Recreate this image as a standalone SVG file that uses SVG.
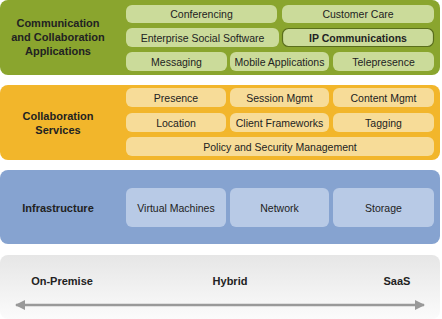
<svg xmlns="http://www.w3.org/2000/svg" width="442" height="319" viewBox="0 0 442 319">
<defs>
<linearGradient id="gg" x1="0" y1="0" x2="0" y2="1">
<stop offset="0" stop-color="#e6e6e6"/>
<stop offset="1" stop-color="#fbfbfb"/>
</linearGradient>
<marker id="ah" viewBox="0 0 10 10" refX="9" refY="5" markerWidth="6" markerHeight="4" orient="auto-start-reverse" markerUnits="strokeWidth">
<path d="M0,0 L10,5 L0,10 z" fill="#999"/>
</marker>
</defs>
<style>
text{font-family:"Liberation Sans",Arial,sans-serif;font-size:10.5px;fill:#222;text-anchor:middle}
.h{font-weight:bold;font-size:11px}
.g{fill:#cbdb9a}
.o{fill:#f7dc98}
.b{fill:#b8cae6}
</style>
<rect x="0" y="0" width="440" height="75" rx="8" fill="#8aa52e"/>
<rect x="0" y="85" width="440" height="75" rx="8" fill="#f2b62b"/>
<rect x="0" y="170" width="440" height="74" rx="8" fill="#86a3d0"/>
<rect x="0" y="255" width="440" height="64" rx="8" fill="url(#gg)"/>
<g id="label-apps"><text class="h" x="58" y="27">Communication</text><text class="h" x="58" y="41">and Collaboration</text><text class="h" x="58" y="55">Applications</text></g>
<g id="conferencing"><rect class="g" x="126" y="5" width="151" height="18" rx="6"/><text x="201.5" y="18">Conferencing</text></g>
<g id="customer-care"><rect class="g" x="282" y="5" width="152" height="18" rx="6"/><text x="358" y="18">Customer Care</text></g>
<g id="ess"><rect class="g" x="126" y="28" width="153" height="19" rx="6"/><text x="202.5" y="41.5">Enterprise Social Software</text></g>
<g id="ipc"><rect class="g" x="282.5" y="28.5" width="151" height="18" rx="6" stroke="#5a6e1c" stroke-width="1.2"/><text x="358" y="41.5" font-weight="bold">IP Communications</text></g>
<g id="messaging"><rect class="g" x="126" y="52" width="101" height="19" rx="6"/><text x="176.5" y="65.5">Messaging</text></g>
<g id="mobile"><rect class="g" x="230" y="52" width="99" height="19" rx="6"/><text x="279.5" y="65.5">Mobile Applications</text></g>
<g id="telepresence"><rect class="g" x="333" y="52" width="101" height="19" rx="6"/><text x="383.5" y="65.5">Telepresence</text></g>
<g id="label-services"><text class="h" x="58" y="120">Collaboration</text><text class="h" x="58" y="134">Services</text></g>
<g id="presence"><rect class="o" x="126" y="88" width="100" height="19" rx="6"/><text x="176" y="101.5">Presence</text></g>
<g id="session"><rect class="o" x="230" y="88" width="99" height="19" rx="6"/><text x="279.5" y="101.5">Session Mgmt</text></g>
<g id="content"><rect class="o" x="333" y="88" width="101" height="19" rx="6"/><text x="383.5" y="101.5">Content Mgmt</text></g>
<g id="location"><rect class="o" x="126" y="113" width="100" height="19" rx="6"/><text x="176" y="126.5">Location</text></g>
<g id="client"><rect class="o" x="230" y="113" width="99" height="19" rx="6"/><text x="279.5" y="126.5">Client Frameworks</text></g>
<g id="tagging"><rect class="o" x="333" y="113" width="101" height="19" rx="6"/><text x="383.5" y="126.5">Tagging</text></g>
<g id="policy"><rect class="o" x="126" y="137" width="308" height="19" rx="6"/><text x="280" y="150.5">Policy and Security Management</text></g>
<g id="label-infra"><text class="h" x="58" y="212">Infrastructure</text></g>
<g id="vm"><rect class="b" x="126" y="188" width="100" height="39" rx="6"/><text x="176" y="211.5">Virtual Machines</text></g>
<g id="network"><rect class="b" x="230" y="188" width="99" height="39" rx="6"/><text x="279.5" y="211.5">Network</text></g>
<g id="storage"><rect class="b" x="333" y="188" width="101" height="39" rx="6"/><text x="383.5" y="211.5">Storage</text></g>
<g id="label-onprem"><text class="h" x="62" y="285">On-Premise</text></g>
<g id="label-hybrid"><text class="h" x="230" y="285">Hybrid</text></g>
<g id="label-saas"><text class="h" x="397" y="285">SaaS</text></g>
<g id="connectors">
<line x1="16" y1="305" x2="424" y2="305" stroke="#999" stroke-width="2.5" marker-start="url(#ah)" marker-end="url(#ah)"/>
</g>
</svg>
